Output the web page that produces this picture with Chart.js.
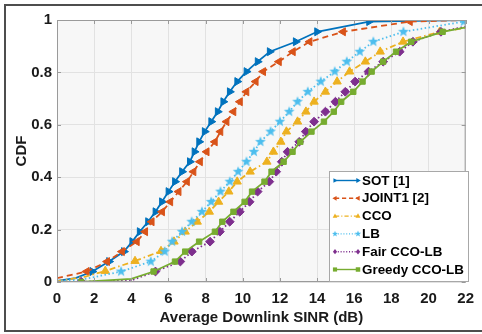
<!DOCTYPE html>
<html>
<head>
<meta charset="utf-8">
<script src="https://cdn.jsdelivr.net/npm/chart.js@4.4.0/dist/chart.umd.min.js"></script>
<style>
  html, body { margin: 0; padding: 0; background: #fff; }
  #wrap { width: 482px; height: 334px; position: relative; }
</style>
</head>
<body>
<div id="wrap"><canvas id="cdfChart" width="482" height="334"></canvas></div>
<script>
// Series (x = SINR in dB, y = CDF)
const seriesNames = ['SOT [1]', 'JOINT1 [2]', 'CCO', 'LB', 'Fair CCO-LB', 'Greedy CCO-LB'];

const sotX = [0, 1, 1.9, 2.8, 3.6, 4.05, 4.45, 4.9, 5.3, 5.65, 6.0, 6.35, 6.73, 7.15, 7.4, 7.65, 7.95, 8.3, 8.65, 8.95, 9.3, 9.7, 10.2, 10.8, 11.45, 12.85, 14.0, 16.8, 22];
const sotY = [0.004, 0.015, 0.04, 0.078, 0.116, 0.154, 0.192, 0.23, 0.268, 0.306, 0.345, 0.383, 0.421, 0.459, 0.497, 0.535, 0.574, 0.612, 0.65, 0.688, 0.726, 0.765, 0.803, 0.841, 0.879, 0.917, 0.955, 0.994, 1.0];

const jointX = [0, 1.6, 2.7, 3.5, 4.3, 4.75, 5.1, 5.66, 6.1, 6.55, 7.0, 7.35, 7.7, 8.06, 8.5, 8.8, 9.13, 9.5, 9.85, 10.2, 10.7, 11.1, 11.95, 12.7, 13.6, 15.4, 19.0, 22];
const jointY = [0.015, 0.04, 0.078, 0.116, 0.154, 0.192, 0.23, 0.268, 0.306, 0.345, 0.383, 0.421, 0.459, 0.497, 0.535, 0.574, 0.612, 0.65, 0.688, 0.726, 0.765, 0.803, 0.841, 0.879, 0.917, 0.955, 0.994, 1.0];

const ccoX = [0, 1.5, 2.6, 4.2, 5.6, 6.3, 6.9, 7.55, 8.2, 8.7, 9.25, 9.7, 10.4, 11.3, 11.65, 12.05, 12.35, 12.95, 13.4, 13.84, 14.45, 15.08, 15.75, 16.6, 17.4, 18.63, 20.6, 22];
const ccoY = [0.003, 0.02, 0.042, 0.08, 0.118, 0.154, 0.192, 0.23, 0.268, 0.306, 0.345, 0.383, 0.421, 0.459, 0.497, 0.535, 0.574, 0.612, 0.65, 0.688, 0.726, 0.765, 0.803, 0.841, 0.879, 0.917, 0.955, 0.97];

const lbX = [0, 1.4, 3.45, 5.05, 5.8, 6.2, 6.73, 7.25, 7.8, 8.3, 8.8, 9.3, 9.75, 10.2, 10.6, 10.95, 11.5, 12.0, 12.5, 12.95, 13.5, 14.2, 14.95, 15.6, 16.3, 17.03, 18.65, 21.9];
const lbY = [0.003, 0.01, 0.04, 0.078, 0.116, 0.154, 0.192, 0.23, 0.268, 0.306, 0.345, 0.383, 0.421, 0.459, 0.497, 0.535, 0.574, 0.612, 0.65, 0.688, 0.726, 0.765, 0.803, 0.841, 0.879, 0.917, 0.955, 0.994];

const fairX = [1.3, 4.0, 5.3, 6.64, 7.26, 8.24, 8.77, 9.3, 9.84, 10.37, 10.8, 11.43, 11.8, 12.1, 12.41, 13.04, 13.39, 13.84, 14.45, 14.99, 15.52, 16.05, 16.77, 17.56, 18.45, 19.16, 20.67, 22];
const fairY = [0.001, 0.006, 0.04, 0.078, 0.116, 0.154, 0.192, 0.23, 0.268, 0.306, 0.345, 0.383, 0.421, 0.459, 0.497, 0.535, 0.574, 0.612, 0.65, 0.688, 0.726, 0.765, 0.803, 0.841, 0.879, 0.917, 0.955, 0.975];

const greedyX = [1.3, 4.0, 5.2, 6.35, 6.9, 7.65, 8.5, 8.9, 9.5, 10.1, 10.5, 11.17, 11.55, 12.2, 12.68, 13.1, 13.7, 14.37, 14.9, 15.3, 15.95, 16.45, 16.94, 17.56, 18.25, 19.07, 20.76, 22];
const greedyY = [0.0, 0.012, 0.04, 0.078, 0.116, 0.154, 0.192, 0.23, 0.268, 0.306, 0.345, 0.383, 0.421, 0.459, 0.497, 0.535, 0.574, 0.612, 0.65, 0.688, 0.726, 0.765, 0.803, 0.841, 0.879, 0.917, 0.955, 0.972];

const xTicks = [0, 2, 4, 6, 8, 10, 12, 14, 16, 18, 20, 22];
const yTicks = [0, 0.2, 0.4, 0.6, 0.8, 1];

// Pair up x and y arrays for Chart.js
function toPoints(xs, ys) {
    return xs.map((x, i) => ({ x: x, y: ys[i] }));
}

// Filled five-point star, used for the LB markers
function starPath(ctx, cx, cy, r) {
    ctx.beginPath();
    for (let i = 0; i < 10; i++) {
        const rr = i % 2 === 0 ? r : r * 0.42;
        const a = -Math.PI / 2 + i * Math.PI / 5;
        ctx.lineTo(cx + rr * Math.cos(a), cy + rr * Math.sin(a));
    }
    ctx.closePath();
}

function makeStar(color, r) {
    const c = document.createElement('canvas');
    c.width = c.height = Math.ceil(r * 2 + 2);
    const cctx = c.getContext('2d');
    starPath(cctx, c.width / 2, c.height / 2, r);
    cctx.fillStyle = color;
    cctx.fill();
    return c;
}

const FONT = "'Liberation Sans', Arial, sans-serif";
const TEXT = '#1a1a1a';

// Marker style for each series
const styles = [
    { color: '#0072BD', dash: [], marker: 'triangle', rot: 90, r: 4.6 },
    { color: '#D95319', dash: [6, 4], marker: 'triangle', rot: -90, r: 4.6 },
    { color: '#EDB120', dash: [6, 3, 1.5, 3], marker: 'triangle', rot: 0, r: 4.8 },
    { color: '#4DBEEE', dash: [1.5, 2.5], marker: 'star', rot: 0, r: 5.6 },
    { color: '#7E2F8E', dash: [1.5, 2.5], marker: 'rectRot', rot: 0, r: 4.4 },
    { color: '#77AC30', dash: [], marker: 'rect', rot: 0, r: 3.8 }
];

const allPoints = [
    toPoints(sotX, sotY),
    toPoints(jointX, jointY),
    toPoints(ccoX, ccoY),
    toPoints(lbX, lbY),
    toPoints(fairX, fairY),
    toPoints(greedyX, greedyY)
];

const datasets = seriesNames.map((name, i) => {
    const s = styles[i];
    const markerRadius = ctx => {
        const p = ctx.raw;
        if (!p) return 0;
        if (p.x <= 0 || p.x >= 22) return 0;
        if (p.y < 0.03 && ctx.dataIndex > 0) return 0;
        return s.r;
    };
    return {
        label: name,
        data: allPoints[i],
        borderColor: s.color,
        backgroundColor: s.color,
        borderWidth: 1.8,
        borderDash: s.dash,
        tension: 0,
        pointStyle: s.marker === 'star' ? makeStar(s.color, s.r) : s.marker,
        rotation: s.rot,
        pointRadius: markerRadius,
        pointBackgroundColor: s.color,
        pointBorderColor: s.color,
        pointBorderWidth: 1,
        order: seriesNames.length - i
    };
});

// Draws a small marker for the legend
function drawMarker(ctx, s, x, y, r) {
    ctx.save();
    ctx.fillStyle = s.color;
    ctx.translate(x, y);
    if (s.marker === 'star') {
        starPath(ctx, 0, 0, r * 1.2);
        ctx.fill();
    } else if (s.marker === 'triangle') {
        ctx.rotate(s.rot * Math.PI / 180);
        ctx.beginPath();
        ctx.moveTo(0, -r);
        ctx.lineTo(r * 0.9, r * 0.6);
        ctx.lineTo(-r * 0.9, r * 0.6);
        ctx.closePath();
        ctx.fill();
    } else if (s.marker === 'rectRot') {
        ctx.beginPath();
        ctx.moveTo(0, -r);
        ctx.lineTo(r * 0.8, 0);
        ctx.lineTo(0, r);
        ctx.lineTo(-r * 0.8, 0);
        ctx.closePath();
        ctx.fill();
    } else {
        ctx.fillRect(-r * 0.8, -r * 0.8, r * 1.6, r * 1.6);
    }
    ctx.restore();
}

const framePlugin = {
    id: 'framePlugin',
    beforeDraw(chart) {
        const { ctx, chartArea: a } = chart;
        ctx.save();
        ctx.fillStyle = '#f7f7f7';
        ctx.fillRect(a.left, a.top, a.right - a.left, a.bottom - a.top);
        ctx.restore();
    },
    afterDatasetsDraw(chart) {
        const { ctx, chartArea: a, scales } = chart;
        ctx.save();
        // axes box
        ctx.strokeStyle = '#9a9a9a';
        ctx.lineWidth = 1;
        ctx.strokeRect(a.left + 0.5, a.top + 0.5, a.right - a.left - 1, a.bottom - a.top - 1);
        // inner tick marks
        ctx.beginPath();
        xTicks.forEach(v => {
            const px = Math.round(scales.x.getPixelForValue(v)) + 0.5;
            ctx.moveTo(px, a.bottom); ctx.lineTo(px, a.bottom - 4);
            ctx.moveTo(px, a.top); ctx.lineTo(px, a.top + 4);
        });
        yTicks.forEach(v => {
            const py = Math.round(scales.y.getPixelForValue(v)) + 0.5;
            ctx.moveTo(a.left, py); ctx.lineTo(a.left + 4, py);
            ctx.moveTo(a.right, py); ctx.lineTo(a.right - 4, py);
        });
        ctx.stroke();

        // legend box in the lower right corner
        const lx = 329, ly = 171, lw = 139, lh = 110;
        ctx.fillStyle = '#ffffff';
        ctx.fillRect(lx, ly, lw, lh);
        ctx.strokeStyle = '#a8a8a8';
        ctx.strokeRect(lx + 0.5, ly + 0.5, lw, lh);
        ctx.font = 'bold 13.4px ' + FONT;
        ctx.textBaseline = 'middle';
        ctx.textAlign = 'left';
        seriesNames.forEach((name, i) => {
            const s = styles[i];
            const y = ly + 9.5 + i * 17.8;
            ctx.strokeStyle = s.color;
            ctx.lineWidth = 1.4;
            ctx.setLineDash(s.dash.length ? s.dash.map(d => d * 0.7) : []);
            ctx.beginPath();
            ctx.moveTo(335, y);
            ctx.lineTo(358, y);
            ctx.stroke();
            ctx.setLineDash([]);
            drawMarker(ctx, s, 335, y, 2.6);
            drawMarker(ctx, s, 358, y, 2.8);
            ctx.fillStyle = '#000';
            ctx.fillText(name, 362, y + 0.5);
        });

        // outer figure frame (top, left, bottom)
        ctx.strokeStyle = '#4d4d4d';
        ctx.lineWidth = 2;
        ctx.beginPath();
        ctx.moveTo(482, 5);
        ctx.lineTo(5, 5);
        ctx.lineTo(5, 331);
        ctx.lineTo(482, 331);
        ctx.stroke();
        ctx.restore();
    }
};

const chart = new Chart(document.getElementById('cdfChart').getContext('2d'), {
    type: 'line',
    data: { datasets: datasets },
    options: {
        responsive: false,
        animation: false,
        devicePixelRatio: 1,
        layout: { padding: { top: 20, right: 12, left: 0, bottom: 0 } },
        plugins: {
            legend: { display: false },
            tooltip: { enabled: false }
        },
        scales: {
            x: {
                type: 'linear',
                min: 0,
                max: 22,
                afterFit: scale => { scale.height = 52; },
                afterBuildTicks: scale => { scale.ticks = xTicks.map(v => ({ value: v })); },
                ticks: {
                    font: { family: FONT, size: 15, weight: 'bold' },
                    color: TEXT,
                    padding: 8,
                    maxRotation: 0,
                    callback: v => String(v)
                },
                grid: { color: '#e2e2e2', drawTicks: false },
                border: { display: false },
                title: {
                    display: true,
                    text: 'Average Downlink SINR (dB)',
                    font: { family: FONT, size: 15, weight: 'bold' },
                    color: TEXT,
                    padding: { top: 0, bottom: 7 }
                }
            },
            y: {
                type: 'linear',
                min: 0,
                max: 1,
                afterFit: scale => { scale.width = 57; },
                afterBuildTicks: scale => { scale.ticks = yTicks.map(v => ({ value: v })); },
                ticks: {
                    font: { family: FONT, size: 15, weight: 'bold' },
                    color: TEXT,
                    padding: 5,
                    callback: v => String(+v.toFixed(1))
                },
                grid: { color: '#e2e2e2', drawTicks: false },
                border: { display: false },
                title: {
                    display: true,
                    text: 'CDF',
                    font: { family: FONT, size: 15, weight: 'bold' },
                    color: TEXT,
                    padding: { top: 13, bottom: 0 }
                }
            }
        }
    },
    plugins: [framePlugin]
});
</script>
</body>
</html>
